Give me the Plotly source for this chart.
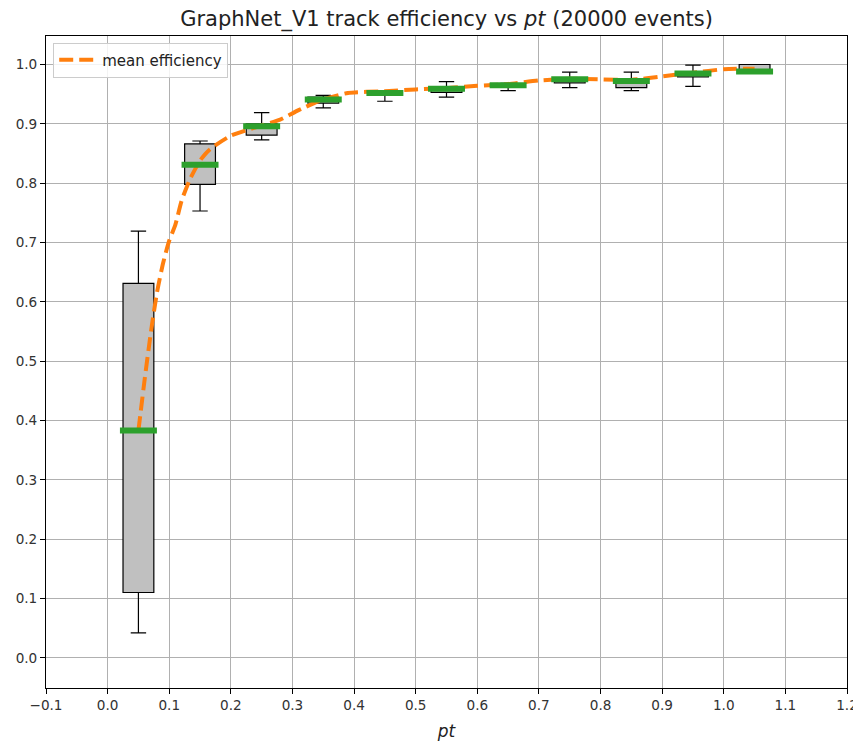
import plotly.graph_objects as go

# ---- data ----
positions = [0.05, 0.15, 0.25, 0.35, 0.45, 0.55, 0.65, 0.75, 0.85, 0.95, 1.05]
lower_whisker = [0.042, 0.753, 0.873, 0.927, 0.938, 0.945, 0.956, 0.961, 0.956, 0.963, 0.985]
q1 = [0.110, 0.798, 0.881, 0.935, 0.948, 0.953, 0.962, 0.969, 0.961, 0.979, 0.985]
median = [0.383, 0.831, 0.896, 0.941, 0.952, 0.959, 0.965, 0.975, 0.972, 0.985, 0.988]
q3 = [0.631, 0.866, 0.900, 0.945, 0.955, 0.962, 0.967, 0.978, 0.975, 0.988, 1.000]
upper_whisker = [0.719, 0.871, 0.919, 0.948, 0.956, 0.971, 0.968, 0.987, 0.987, 0.999, 1.000]

mean_pt = [0.05, 0.06, 0.07, 0.08, 0.09, 0.10, 0.11, 0.12, 0.133, 0.15, 0.165, 0.20, 0.24,
           0.28, 0.31, 0.35, 0.39, 0.45, 0.50, 0.55, 0.60, 0.65, 0.70, 0.75, 0.80, 0.85,
           0.90, 0.95, 1.00, 1.05]
mean_eff = [0.383, 0.468, 0.547, 0.615, 0.665, 0.703, 0.730, 0.770, 0.805, 0.838, 0.856, 0.880,
            0.894, 0.907, 0.923, 0.941, 0.952, 0.955, 0.958, 0.960, 0.964, 0.967, 0.973, 0.976,
            0.975, 0.974, 0.980, 0.986, 0.992, 0.993]

x_ticks = [-0.1, 0.0, 0.1, 0.2, 0.3, 0.4, 0.5, 0.6, 0.7, 0.8, 0.9, 1.0, 1.1, 1.2]
x_ticklabels = ["\u22120.1", "0.0", "0.1", "0.2", "0.3", "0.4", "0.5", "0.6", "0.7", "0.8",
                "0.9", "1.0", "1.1", "1.2"]
y_ticks = [0.0, 0.1, 0.2, 0.3, 0.4, 0.5, 0.6, 0.7, 0.8, 0.9, 1.0]

title_text = "GraphNet_V1 track efficiency vs <i>pt</i> (20000 events)"

BOX_W = 0.05
MED_W = 0.06

FONT = "DejaVu Sans"

fig = go.Figure()

fig.add_trace(go.Box(
    x=positions, q1=q1, median=median, q3=q3,
    lowerfence=lower_whisker, upperfence=upper_whisker,
    width=BOX_W, whiskerwidth=0.5,
    fillcolor="#c0c0c0", line=dict(color="black", width=1.2),
    boxpoints=False, showlegend=False, hoverinfo="skip",
))

fig.add_trace(go.Scatter(
    x=mean_pt, y=mean_eff, mode="lines", name="mean efficiency",
    line=dict(color="#ff7f0e", width=4, dash="14px,6px", shape="spline", smoothing=0.6),
))

med_x, med_y = [], []
for p, m in zip(positions, median):
    med_x += [p - MED_W / 2, p + MED_W / 2, None]
    med_y += [m, m, None]
fig.add_trace(go.Scatter(
    x=med_x, y=med_y, mode="lines", showlegend=False, hoverinfo="skip",
    line=dict(color="#2ca02c", width=6),
))

axis_common = dict(
    showline=True, linecolor="black", linewidth=1, mirror=True,
    ticks="outside", ticklen=5, tickcolor="black", tickwidth=1,
    showgrid=True, gridcolor="#b0b0b0", gridwidth=1, zeroline=False,
    tickfont=dict(family=FONT, size=13.6, color="#333333"),
    ticklabeloverflow="allow",
)

fig.update_layout(
    width=853, height=744,
    margin=dict(l=46, r=6, t=36, b=56),
    paper_bgcolor="white", plot_bgcolor="white",
    font=dict(family=FONT, size=13.6, color="#222222"),
    title=dict(text=title_text, x=0.5, xref="paper", xanchor="center",
               y=1 - 19 / 744, yref="container", yanchor="middle",
               font=dict(family=FONT, size=21, color="#222222")),
    xaxis=dict(range=[-0.1, 1.2], tickvals=x_ticks, ticktext=x_ticklabels,
               title=dict(text="<i>pt</i>", font=dict(family=FONT, size=17, color="#222222"),
                          standoff=12),
               automargin=False, **axis_common),
    yaxis=dict(range=[-0.051, 1.048], tickvals=y_ticks, tickformat=".1f",
               automargin=False, **axis_common),
    legend=dict(x=0.009, y=0.990, xanchor="left", yanchor="top",
                bgcolor="rgba(255,255,255,0.85)", bordercolor="#cccccc", borderwidth=1,
                itemwidth=38,
                font=dict(family=FONT, size=15, color="#222222")),
    showlegend=True,
)

fig.write_html("out.html")
